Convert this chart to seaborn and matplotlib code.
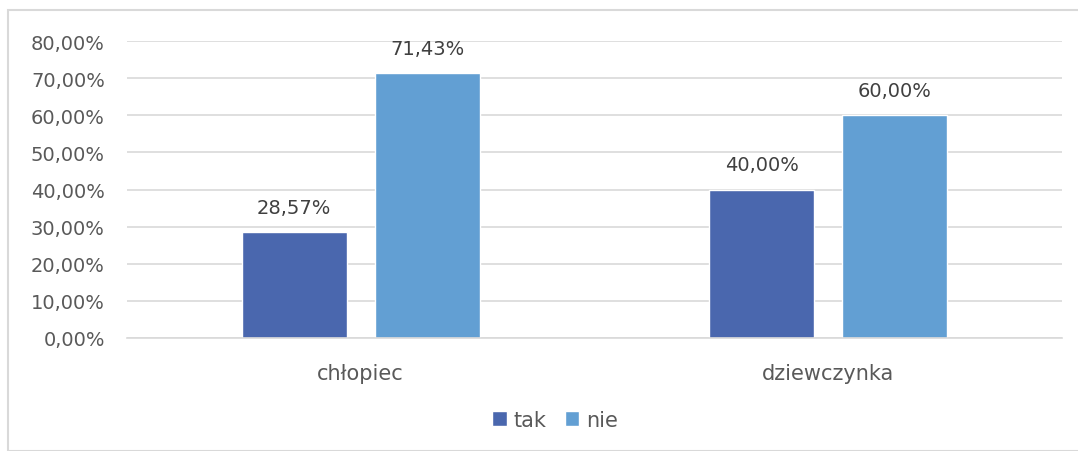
import matplotlib
matplotlib.use("Agg")
import matplotlib.pyplot as plt
import seaborn as sns
import pandas as pd
from matplotlib.patches import Rectangle

categories = ["chłopiec", "dziewczynka"]
series = ["tak", "nie"]
tak_values = [28.57, 40.00]
nie_values = [71.43, 60.00]
yticks = [0, 10, 20, 30, 40, 50, 60, 70, 80]

rows = []
for c, t, n in zip(categories, tak_values, nie_values):
    rows.append({"cat": c, "series": "tak", "val": t})
    rows.append({"cat": c, "series": "nie", "val": n})
df = pd.DataFrame(rows)

sns.set_theme(style="white")
plt.rcParams['font.family'] = ['DejaVu Sans']
txt = "#595959"

fig = plt.figure(figsize=(10.78, 4.52), dpi=100)
ax = fig.add_axes([127/1078, 1 - 339/452, (1062-127)/1078, (339-42)/452])

palette = {"tak": "#4a67ae", "nie": "#629fd3"}
sns.barplot(data=df, x="cat", y="val", hue="series", hue_order=series,
            palette=palette, width=0.569, gap=0.209, ax=ax, saturation=1,
            legend=True)

for cont in ax.containers:
    labels = [f"{v:.2f}%".replace(".", ",") for v in cont.datavalues]
    ax.bar_label(cont, labels=labels, padding=11, fontsize=14, color="#404040")

ax.set_ylim(0, 80)
ax.set_xlim(-0.5, 1.5)
ax.set_yticks(yticks)
ax.set_yticklabels([f"{v:.2f}%".replace(".", ",") for v in yticks], fontsize=14, color=txt)
ax.tick_params(axis="x", labelsize=15, labelcolor=txt, pad=18, length=0)
ax.tick_params(axis="y", length=0, pad=16)
ax.set_xlabel("")
ax.set_ylabel("")
ax.yaxis.grid(True, color="#d9d9d9", linewidth=1.2)
ax.set_axisbelow(True)
for s in ["top", "right", "left"]:
    ax.spines[s].set_visible(False)
ax.spines["bottom"].set_color("#d9d9d9")
ax.spines["bottom"].set_linewidth(1.2)

handles, labels = ax.get_legend_handles_labels()
ax.legend_.remove()
fig.legend(handles, labels, loc="center", bbox_to_anchor=(555/1078, 1 - 421/452),
           ncol=2, frameon=False, fontsize=15, labelcolor=txt,
           handlelength=0.7, handleheight=0.7, handletextpad=0.3, columnspacing=0.9)

fig.patches.append(Rectangle((8/1078, 0), 1.1, 1 - 11/452, transform=fig.transFigure,
                             fill=False, edgecolor="#d9d9d9", linewidth=1.5))

fig.savefig("out.png", dpi=100)
